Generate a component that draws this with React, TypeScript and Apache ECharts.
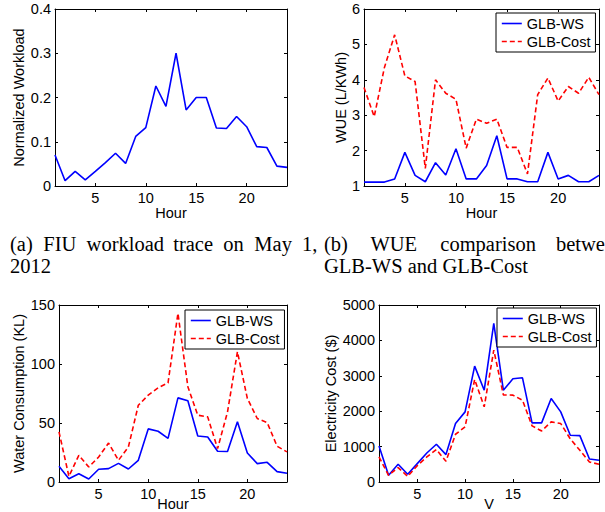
import React, { useEffect, useRef } from 'react';
import * as echarts from 'echarts';

const hours = [1, 2, 3, 4, 5, 6, 7, 8, 9, 10, 11, 12, 13, 14, 15, 16, 17, 18, 19, 20, 21, 22, 23, 24];
const xTicks = [5, 10, 15, 20];

const workload = [0.070, 0.012, 0.033, 0.014, 0.033, 0.053, 0.074, 0.051, 0.112, 0.132, 0.226, 0.180, 0.300, 0.172, 0.200, 0.200, 0.131, 0.130, 0.157, 0.134, 0.089, 0.087, 0.045, 0.042];

const wueWS = [1.11, 1.11, 1.11, 1.2, 1.95, 1.3, 1.12, 1.66, 1.31, 2.05, 1.2, 1.2, 1.58, 2.42, 1.2, 1.2, 1.12, 1.12, 1.95, 1.2, 1.3, 1.12, 1.12, 1.3];
const wueCost = [3.78, 2.96, 4.35, 5.27, 4.11, 3.95, 1.5, 4.0, 3.62, 3.45, 2.07, 2.89, 2.77, 2.89, 2.09, 2.09, 1.34, 3.58, 4.05, 3.4, 3.81, 3.62, 4.07, 3.58];

const waterWS = [13.3, 2.8, 7, 2.5, 10.8, 11.3, 15.8, 11, 18.4, 45, 43, 37, 71.3, 68.8, 39, 38.2, 26, 25.8, 51, 24.6, 15.6, 16.7, 8.8, 7.4];
const waterCost = [42.5, 4.8, 22.6, 12.7, 21.2, 33, 18.4, 29.7, 65, 73.6, 79.8, 84, 143, 80.7, 56.6, 55.2, 28.3, 59.4, 110.4, 70.8, 53.8, 50.4, 30.3, 25.5];

const costWS = [1019, 189, 500, 217, 519, 820, 1066, 774, 1651, 1981, 3274, 2594, 4481, 2594, 2915, 2943, 1670, 1670, 2358, 1981, 1320, 1311, 651, 613];
const costCost = [708, 190, 405, 160, 462, 708, 915, 585, 1349, 1557, 2896, 2123, 3726, 2462, 2453, 2311, 1585, 1443, 1698, 1651, 1217, 896, 566, 500];

const legendNames = ['GLB-WS', 'GLB-Cost'];

const captionA1: [string, number][] = [['(a)', 10], ['FIU', 43.3], ['workload', 86.6], ['trace', 173.2], ['on', 223.2], ['May', 254.3], ['1,', 302.1]];
const captionA2: [string, number][] = [['2012', 10]];
const captionB1: [string, number][] = [['(b)', 324], ['WUE', 370.4], ['comparison', 440.3], ['betwe', 556]];
const captionB2: [string, number][] = [['GLB-WS and GLB-Cost', 324]];

const SANS = '"Liberation Sans", Arial, sans-serif';
const SERIF = '"Liberation Serif", "Times New Roman", serif';
const BLUE = '#0000ff';
const RED = '#ff0000';

const grids = [
  { left: 55, top: 9, width: 232, height: 177 },
  { left: 364, top: 9, width: 235, height: 177 },
  { left: 59, top: 305, width: 228, height: 177 },
  { left: 379, top: 305, width: 220, height: 177 },
];

const panelCfg = [
  { yMin: 0, yMax: 0.4, yInt: 0.1, yName: 'Normalized Workload', yGap: 25, xName: 'Hour', xGap: 16, fixName: false },
  { yMin: 1, yMax: 6, yInt: 1, yName: 'WUE (L/KWh)', yGap: 13, xName: 'Hour', xGap: 16, fixName: false },
  { yMin: 0, yMax: 150, yInt: 50, yName: 'Water Consumption (KL)', yGap: 29, xName: 'Hour', xGap: 14.5, fixName: true },
  { yMin: 0, yMax: 5000, yInt: 1000, yName: 'Electricity Cost ($)', yGap: 38, xName: 'V', xGap: 14.5, fixName: true },
];

const axisLine = { show: true, onZero: false, lineStyle: { color: '#000', width: 1 } };
const tickStyle = { color: '#000', width: 1 };
const labelFont = { color: '#000', fontSize: 14.5, fontFamily: SANS };

function buildOption() {
  const xAxis: any[] = [];
  const yAxis: any[] = [];
  panelCfg.forEach((p, i) => {
    const bottom: any = {
      type: 'value', gridIndex: i, min: 1, max: 24, position: 'bottom',
      axisLine, splitLine: { show: false },
      axisTick: { show: true, inside: true, length: 3, customValues: xTicks, lineStyle: tickStyle },
      axisLabel: { show: true, customValues: xTicks, margin: 4, ...labelFont },
      name: p.xName, nameLocation: 'middle', nameGap: p.xGap,
      nameTextStyle: { ...labelFont, lineHeight: 15 },
    };
    if (p.fixName) bottom.nameMoveOverlap = false;
    xAxis.push(bottom);
    xAxis.push({
      type: 'value', gridIndex: i, min: 1, max: 24, position: 'top',
      axisLine, splitLine: { show: false },
      axisTick: { show: true, inside: true, length: 3, customValues: xTicks, lineStyle: tickStyle },
      axisLabel: { show: false },
    });
    yAxis.push({
      type: 'value', gridIndex: i, min: p.yMin, max: p.yMax, interval: p.yInt, position: 'left',
      axisLine, splitLine: { show: false },
      axisTick: { show: true, inside: true, length: 3, lineStyle: tickStyle },
      axisLabel: { show: true, margin: 4, ...labelFont, formatter: (v: number) => String(Math.round(v * 1000) / 1000) },
      name: p.yName, nameLocation: 'middle', nameGap: p.yGap, nameTextStyle: labelFont,
    });
    yAxis.push({
      type: 'value', gridIndex: i, min: p.yMin, max: p.yMax, interval: p.yInt, position: 'right',
      axisLine, splitLine: { show: false },
      axisTick: { show: true, inside: true, length: 3, lineStyle: tickStyle },
      axisLabel: { show: false },
    });
  });

  const pts = (vals: number[]) => hours.map((h, k) => [h, vals[k]]);
  const wsLine = (name: string, vals: number[], i: number) => ({
    type: 'line', name, xAxisIndex: 2 * i, yAxisIndex: 2 * i, data: pts(vals),
    symbol: 'none', showSymbol: false,
    lineStyle: { color: BLUE, width: 1.6, type: 'solid' }, itemStyle: { color: BLUE },
  });
  const costLine = (vals: number[], i: number) => ({
    type: 'line', name: 'GLB-Cost', xAxisIndex: 2 * i, yAxisIndex: 2 * i, data: pts(vals),
    symbol: 'none', showSymbol: false,
    lineStyle: { color: RED, width: 1.6, type: [5, 3] }, itemStyle: { color: RED },
  });

  const series = [
    wsLine('Workload', workload, 0),
    wsLine('GLB-WS', wueWS, 1), costLine(wueCost, 1),
    wsLine('GLB-WS', waterWS, 2), costLine(waterCost, 2),
    wsLine('GLB-WS', costWS, 3), costLine(costCost, 3),
  ];

  const mkLegend = (left: number, top: number) => ({
    data: legendNames, orient: 'vertical', left, top,
    padding: [3, 5, 3, 5], itemGap: 3, itemWidth: 20, itemHeight: 14,
    backgroundColor: '#fff', borderColor: '#000', borderWidth: 1, borderRadius: 0,
    selectedMode: false,
    itemStyle: { opacity: 0 },
    lineStyle: { width: 1.6 },
    textStyle: { color: '#000', fontSize: 14.5, fontFamily: SANS },
  });

  const words: any[] = [];
  const addLine = (arr: [string, number][], y: number) => {
    arr.forEach(([t, x]) => {
      words.push({
        type: 'text', x, y, silent: true,
        style: { text: t, fill: '#000', font: `20.5px ${SERIF}`, textAlign: 'left', verticalAlign: 'middle' },
      });
    });
  };
  addLine(captionA1, 244);
  addLine(captionA2, 266);
  addLine(captionB1, 244);
  addLine(captionB2, 266);

  return {
    animation: false,
    backgroundColor: '#fff',
    grid: grids.map((g) => ({ ...g, containLabel: false, outerBoundsMode: 'none' })),
    xAxis, yAxis, series,
    legend: [mkLegend(496, 13), mkLegend(185, 310), mkLegend(497, 308)],
    graphic: words,
  };
}

export default function App() {
  const ref = useRef<HTMLDivElement>(null);
  useEffect(() => {
    if (!ref.current) return;
    const chart = echarts.init(ref.current, null, { renderer: 'svg' });
    chart.setOption(buildOption() as any);
    return () => chart.dispose();
  }, []);
  return (
    <div
      ref={ref}
      style={{ position: 'fixed', left: 0, top: 0, width: 605, height: 512, background: '#fff' }}
    />
  );
}
